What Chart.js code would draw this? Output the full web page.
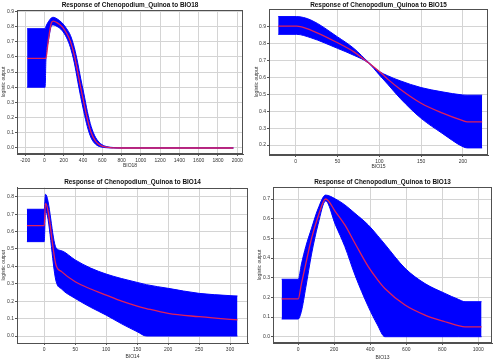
<!DOCTYPE html>
<html>
<head>
<meta charset="utf-8">
<script src="https://cdn.jsdelivr.net/npm/chart.js@4"></script>
<style>
body { margin: 0; background: #fff; width: 493px; height: 361px; position: relative; overflow: hidden; }
canvas { position: absolute; }
</style>
</head>
<body>
<canvas id="c18" width="247" height="176" style="left:0;top:0"></canvas>
<canvas id="c15" width="246" height="176" style="left:247px;top:0"></canvas>
<canvas id="c14" width="250" height="184" style="left:0;top:177px"></canvas>
<canvas id="c13" width="243" height="184" style="left:250px;top:177px"></canvas>
<script>
// BIO18
var bio18X     = [-180, 7, 15, 40, 70, 90, 130, 180, 230, 270, 310, 345, 375, 408, 445, 485, 530, 580, 640, 720, 800, 1960];
var bio18Upper = [0.785, 0.785, 0.80, 0.83, 0.855, 0.86, 0.85, 0.825, 0.785, 0.74, 0.66, 0.56, 0.46, 0.36, 0.24, 0.14, 0.07, 0.03, 0.01, 0.003, 0, 0];
var bio18Mean  = [0.59, 0.59, 0.59, 0.71, 0.82, 0.835, 0.825, 0.80, 0.755, 0.70, 0.61, 0.50, 0.40, 0.30, 0.19, 0.10, 0.045, 0.018, 0.005, 0.001, 0, 0];
var bio18Lower = [0.40, 0.40, 0.58, 0.70, 0.80, 0.81, 0.80, 0.775, 0.725, 0.66, 0.56, 0.44, 0.34, 0.24, 0.14, 0.065, 0.025, 0.008, 0.002, 0, 0, 0];
var bio18XTicks = [-200, 0, 200, 400, 600, 800, 1000, 1200, 1400, 1600, 1800, 2000];
var bio18YTicks = [0, 0.1, 0.2, 0.3, 0.4, 0.5, 0.6, 0.7, 0.8, 0.9];

// BIO15
var bio15X     = [-21, 1, 18, 50, 70, 87, 100, 110, 125, 150, 175, 200, 205, 223];
var bio15Upper = [0.96, 0.96, 0.94, 0.84, 0.77, 0.69, 0.635, 0.61, 0.58, 0.54, 0.515, 0.496, 0.495, 0.495];
var bio15Mean  = [0.904, 0.904, 0.88, 0.805, 0.75, 0.687, 0.635, 0.59, 0.53, 0.447, 0.39, 0.344, 0.337, 0.337];
var bio15Lower = [0.855, 0.855, 0.835, 0.772, 0.73, 0.685, 0.615, 0.56, 0.476, 0.358, 0.27, 0.19, 0.183, 0.183];
var bio15XTicks = [0, 50, 100, 150, 200];
var bio15YTicks = [0.2, 0.3, 0.4, 0.5, 0.6, 0.7, 0.8, 0.9];

// BIO14
var bio14X     = [-28, 0, 2, 19, 28, 50, 75, 100, 125, 150, 165, 200, 250, 300, 312];
var bio14Upper = [0.728, 0.728, 0.814, 0.507, 0.49, 0.437, 0.39, 0.356, 0.33, 0.308, 0.295, 0.274, 0.245, 0.232, 0.23];
var bio14Mean  = [0.634, 0.634, 0.762, 0.408, 0.37, 0.312, 0.27, 0.235, 0.20, 0.172, 0.158, 0.13, 0.111, 0.096, 0.093];
var bio14Lower = [0.542, 0.542, 0.72, 0.316, 0.27, 0.216, 0.165, 0.12, 0.07, 0.025, 0, 0, 0, 0, 0];
var bio14XTicks = [0, 50, 100, 150, 200, 250, 300];
var bio14YTicks = [0, 0.1, 0.2, 0.3, 0.4, 0.5, 0.6, 0.7, 0.8];

// BIO13
var bio13X     = [-92, 0, 18, 42, 74, 110, 152, 207, 259, 315, 389, 440, 481, 593, 704, 815, 889, 926, 1018];
var bio13Upper = [0.292, 0.292, 0.37, 0.458, 0.551, 0.65, 0.72, 0.70, 0.67, 0.627, 0.568, 0.515, 0.47, 0.348, 0.27, 0.22, 0.19, 0.178, 0.178];
var bio13Mean  = [0.192, 0.192, 0.27, 0.37, 0.50, 0.61, 0.70, 0.635, 0.568, 0.475, 0.356, 0.29, 0.245, 0.161, 0.11, 0.076, 0.056, 0.05, 0.05];
var bio13Lower = [0.09, 0.09, 0.13, 0.25, 0.42, 0.57, 0.69, 0.568, 0.458, 0.314, 0.153, 0.06, 0, 0, 0, 0, 0, 0, 0];
var bio13XTicks = [0, 200, 400, 600, 800, 1000];
var bio13YTicks = [0, 0.1, 0.2, 0.3, 0.4, 0.5, 0.6, 0.7];

var fontFamily = '"Liberation Sans", Arial, sans-serif';

function pts(xs, ys) {
    return xs.map(function (x, i) { return { x: x, y: ys[i] }; });
}

// MATLAB-like box around the plot area
var framePlugin = {
    id: 'frame',
    afterDatasetsDraw: function (chart) {
        var a = chart.chartArea, ctx = chart.ctx;
        ctx.save();
        ctx.strokeStyle = '#505050';
        ctx.lineWidth = 1;
        ctx.strokeRect(Math.round(a.left) + 0.5, Math.round(a.top) + 0.5,
            Math.round(a.right - a.left) - 1, Math.round(a.bottom - a.top) - 1);
        ctx.restore();
    }
};

function makePanel(id, p) {
    var canvas = document.getElementById(id);
    new Chart(canvas, {
        type: 'line',
        data: {
            datasets: [
                // band: upper filled down to lower; red mean drawn on top (lowest order)
                { data: pts(p.x, p.upper), fill: '+1', order: 2, backgroundColor: '#0000ff', borderColor: '#0000ff', borderWidth: 1, pointRadius: 0, cubicInterpolationMode: 'monotone' },
                { data: pts(p.x, p.lower), fill: false, order: 1, borderColor: '#0000ff', borderWidth: 1, pointRadius: 0, cubicInterpolationMode: 'monotone' },
                { data: pts(p.x, p.mean), fill: false, order: 0, borderColor: '#e0205a', borderWidth: 1.3, pointRadius: 0, cubicInterpolationMode: 'monotone' }
            ]
        },
        options: {
            responsive: false,
            animation: false,
            layout: { padding: { left: 0, right: p.padRight, top: 0, bottom: 0 } },
            plugins: { legend: { display: false }, tooltip: { enabled: false } },
            scales: {
                x: {
                    type: 'linear', position: 'bottom', min: p.xMin, max: p.xMax,
                    afterFit: function (s) { s.height = p.xAxisH; },
                    afterBuildTicks: function (s) { s.ticks = p.xTicks.map(function (v) { return { value: v }; }); },
                    ticks: { font: { family: fontFamily, size: 5 }, color: '#333', padding: 1.7, maxRotation: 0, autoSkip: false,
                        callback: function (v) { return String(v); } },
                    grid: { color: '#d4d4d4', tickLength: 2, tickColor: '#555' },
                    border: { color: '#505050' },
                    title: { display: true, text: p.xLabel, font: { family: fontFamily, size: 5 }, color: '#333', padding: { top: 0, bottom: p.xTitlePad } }
                },
                top: {
                    type: 'linear', position: 'top', min: p.xMin, max: p.xMax,
                    afterFit: function (s) { s.height = p.titleH; },
                    ticks: { display: false },
                    grid: { display: false },
                    border: { display: false },
                    title: { display: true, text: p.title, font: { family: fontFamily, size: 6.4, weight: 'bold' }, color: '#111', padding: { top: p.titlePad, bottom: 0 } }
                },
                y: {
                    type: 'linear', min: p.yMin, max: p.yMax,
                    afterFit: function (s) { s.width = p.yAxisW; },
                    afterBuildTicks: function (s) { s.ticks = p.yTicks.map(function (v) { return { value: v }; }); },
                    ticks: { font: { family: fontFamily, size: 5 }, color: '#333', padding: 1, callback: function (v) { return v.toFixed(1); } },
                    grid: { color: '#d4d4d4', tickLength: 2, tickColor: '#555' },
                    border: { color: '#505050' },
                    title: { display: true, text: 'logistic output', font: { family: fontFamily, size: 5 }, color: '#333', padding: { top: p.yTitlePad, bottom: 0 } }
                }
            }
        },
        plugins: [framePlugin]
    });
}

makePanel('c18', {
    title: 'Response of Chenopodium_Quinoa to BIO18', xLabel: 'BIO18',
    x: bio18X, upper: bio18Upper, mean: bio18Mean, lower: bio18Lower,
    xTicks: bio18XTicks, yTicks: bio18YTicks,
    xMin: -285, xMax: 2060, yMin: -0.0395, yMax: 0.908,
    padRight: 4, titleH: 10, xAxisH: 22, yAxisW: 17, xTitlePad: 7, yTitlePad: 1, titlePad: 1.2
});
makePanel('c15', {
    title: 'Response of Chenopodium_Quinoa to BIO15', xLabel: 'BIO15',
    x: bio15X, upper: bio15Upper, mean: bio15Mean, lower: bio15Lower,
    xTicks: bio15XTicks, yTicks: bio15YTicks,
    xMin: -32, xMax: 230, yMin: 0.141, yMax: 1.005,
    padRight: 5, titleH: 9, xAxisH: 21, yAxisW: 22, xTitlePad: 6.3, yTitlePad: 6.7, titlePad: 1.4
});
makePanel('c14', {
    title: 'Response of Chenopodium_Quinoa to BIO14', xLabel: 'BIO14',
    x: bio14X, upper: bio14Upper, mean: bio14Mean, lower: bio14Lower,
    xTicks: bio14XTicks, yTicks: bio14YTicks,
    xMin: -44, xMax: 329, yMin: -0.04, yMax: 0.853,
    padRight: 2, titleH: 10.5, xAxisH: 18, yAxisW: 17, xTitlePad: 1.3, yTitlePad: 1, titlePad: 0.9
});
makePanel('c13', {
    title: 'Response of Chenopodium_Quinoa to BIO13', xLabel: 'BIO13',
    x: bio13X, upper: bio13Upper, mean: bio13Mean, lower: bio13Lower,
    xTicks: bio13XTicks, yTicks: bio13YTicks,
    xMin: -140, xMax: 1076, yMin: -0.032, yMax: 0.761,
    padRight: 1, titleH: 10, xAxisH: 18, yAxisW: 23, xTitlePad: 0.7, yTitlePad: 7, titlePad: 0.9
});
</script>
</body>
</html>
